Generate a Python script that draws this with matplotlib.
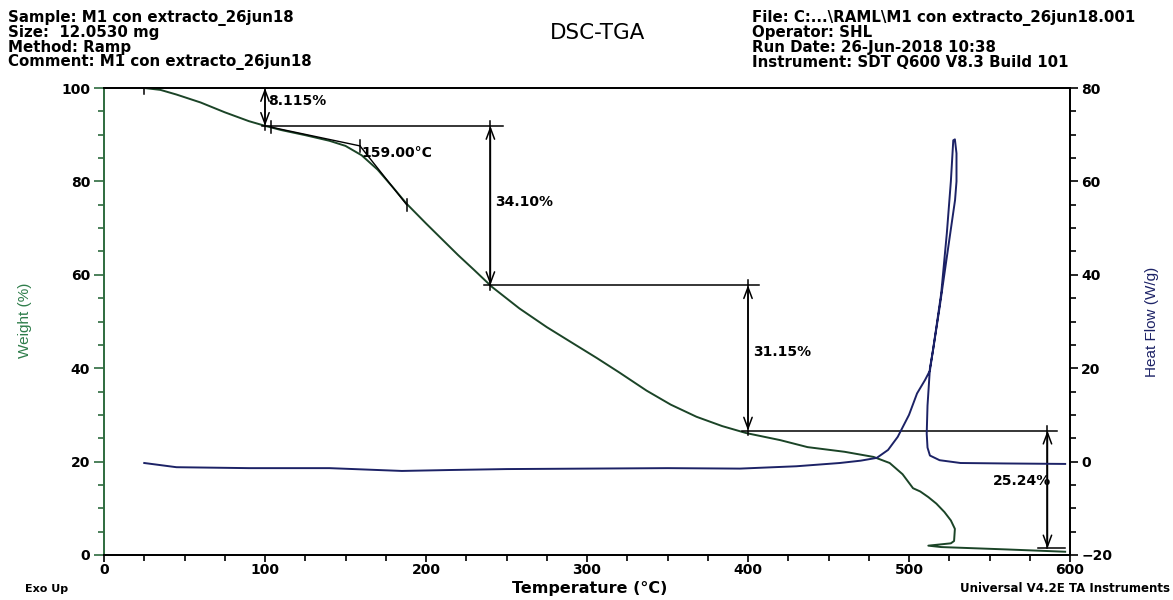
import numpy as np
import matplotlib
matplotlib.use("Agg")
from matplotlib import pyplot as plt
from matplotlib.ticker import MultipleLocator

plt.rcParams['font.family'] = ['DejaVu Sans']

# TGA weight curve (temperature in C, weight in %)
tga_temp = [25, 35, 45, 60, 75, 90, 100, 110, 125, 140, 150, 160, 170, 180, 188,
            200, 210, 220, 230, 241, 258, 275, 290, 306, 320, 337, 352, 368, 384,
            399, 420, 437, 460, 478, 488, 496, 502.5, 507, 512, 517, 522, 526, 528.5,
            528, 526, 512, 520, 560, 597]
tga_weight = [100, 99.6, 98.6, 96.9, 94.8, 92.9, 91.9, 91.0, 89.9, 88.7, 87.6, 85.6,
              82.5, 78.5, 75.2, 71.0, 67.6, 64.2, 61.0, 57.4, 52.8, 48.8, 45.6, 42.2,
              39.1, 35.2, 32.2, 29.6, 27.6, 26.1, 24.6, 23.1, 22.1, 21.0, 19.7, 17.3,
              14.3, 13.6, 12.4, 11.0, 9.2, 7.4, 5.6, 3.0, 2.5, 2.0, 1.7, 1.2, 0.7]

# DSC heat flow curve (temperature in C, heat flow in W/g)
dsc_temp = [25, 45, 90, 140, 185, 215, 250, 300, 350, 395, 430, 457, 470, 480, 487,
            493, 500, 505, 510, 513, 517, 520, 523.5, 526, 527.5, 528.5, 529.5, 529.5,
            528.6, 524, 519, 515, 513, 511.5, 511, 511.5, 513, 519, 532, 560, 597]
dsc_flow = [-0.3, -1.2, -1.4, -1.4, -2.0, -1.8, -1.6, -1.5, -1.4, -1.5, -1.0, -0.3,
            0.2, 0.8, 2.5, 5.3, 10.0, 14.6, 17.5, 19.5, 28.8, 36.0, 48.9, 60.0, 68.8,
            69.0, 66.0, 60.0, 56.0, 45.0, 33.0, 24.0, 20.0, 12.0, 6.0, 3.0, 1.3, 0.3,
            -0.3, -0.4, -0.5]

# step analysis results
step_temps = [100, 240, 400, 586]
step_levels = [100.0, 91.885, 57.785, 26.635, 1.395]
step_labels = ['8.115%', '34.10%', '31.15%', '25.24%']
onset_temps = [104, 159, 188]
onset_weights = [91.6, 87.6, 75.0]

header_left = ["Sample: M1 con extracto_26jun18", "Size:  12.0530 mg",
               "Method: Ramp", "Comment: M1 con extracto_26jun18"]
header_right = ["File: C:...\\RAML\\M1 con extracto_26jun18.001", "Operator: SHL",
                "Run Date: 26-Jun-2018 10:38", "Instrument: SDT Q600 V8.3 Build 101"]

green = '#1b4427'
spine_green = '#2e6b3e'
navy = '#1c2266'

fig = plt.figure(figsize=(11.73, 6.0), dpi=100)
ax = fig.add_axes([104 / 1173, 45 / 600, 966 / 1173, 467 / 600])
ax2 = ax.twinx()

ax.plot(tga_temp, tga_weight, color=green, lw=1.4, zorder=3)
ax2.plot(dsc_temp, dsc_flow, color=navy, lw=1.4, zorder=3)

ax.set_xlim(0, 600)
ax.set_ylim(0, 100)
ax2.set_ylim(-20, 80)

ax.xaxis.set_major_locator(MultipleLocator(100))
ax.xaxis.set_minor_locator(MultipleLocator(25))
ax.yaxis.set_major_locator(MultipleLocator(20))
ax.yaxis.set_minor_locator(MultipleLocator(5))
ax2.yaxis.set_major_locator(MultipleLocator(20))
ax2.yaxis.set_minor_locator(MultipleLocator(5))

ax.tick_params(axis='y', which='major', length=7, width=1.2, labelsize=10, pad=3,
               color=spine_green)
ax.tick_params(axis='y', which='minor', length=4, width=1.2, color=spine_green)
ax.tick_params(axis='x', which='major', length=5, width=1.2, labelsize=10, pad=1)
ax.tick_params(axis='x', which='minor', length=4, width=1.2)
ax2.tick_params(axis='y', which='major', length=6, width=1.2, labelsize=10, pad=2)
ax2.tick_params(axis='y', which='minor', length=4, width=1.2)
for lab in ax.get_xticklabels() + ax.get_yticklabels() + ax2.get_yticklabels():
    lab.set_fontweight('bold')

ax.spines['left'].set_color(spine_green)
ax.spines['left'].set_linewidth(1.4)
ax2.spines['left'].set_visible(False)
for s in ('top', 'bottom', 'right'):
    ax2.spines[s].set_linewidth(1.3)
    ax.spines[s].set_linewidth(1.3)

ax.set_xlabel("Temperature (\u00b0C)", fontsize=11.5, fontweight='bold')
ax.xaxis.set_label_coords((590 - 104) / 966, (555 - 589) / 467)
ax.xaxis.label.set_va('center')
ax.set_ylabel("Weight (%)", fontsize=11, color='#2e7d4a', family='Liberation Sans')
ax.yaxis.set_label_coords((25 - 104) / 966, (555 - 320) / 467)
ax.yaxis.label.set_va('center')
ax2.set_ylabel("Heat Flow (W/g)", fontsize=11, color=navy, family='Liberation Sans')
ax2.yaxis.set_label_coords((1152 - 104) / 966, (555 - 322) / 467)
ax2.yaxis.label.set_va('center')

# step annotations
lk = dict(color='black', lw=1.1, zorder=4)
arrow = dict(arrowstyle='<->,head_length=0.8,head_width=0.3', color='black', lw=1.1,
             shrinkA=0, shrinkB=0)
tk = dict(fontsize=10, fontweight='bold', va='center')
ax.plot([step_temps[0], step_temps[0]], [step_levels[0] + 1.2, step_levels[1] - 0.8], **lk)
ax.annotate('', xy=(step_temps[0], step_levels[0]), xytext=(step_temps[0], step_levels[1]),
            arrowprops=arrow)
ax.text(step_temps[0] + 2, 97.2, step_labels[0], **tk)

ax.plot([98, 248], [step_levels[1], step_levels[1]], **lk)
ax.plot([step_temps[1], step_temps[1]], [step_levels[1] + 1.0, step_levels[2] - 1.0], **lk)
ax.annotate('', xy=(step_temps[1], step_levels[1]), xytext=(step_temps[1], step_levels[2]),
            arrowprops=arrow)
ax.text(step_temps[1] + 3, 75.5, step_labels[1], **tk)

ax.plot([236, 407], [step_levels[2], step_levels[2]], **lk)
ax.plot([step_temps[2], step_temps[2]], [step_levels[2] + 1.0, step_levels[3] - 1.0], **lk)
ax.annotate('', xy=(step_temps[2], step_levels[2]), xytext=(step_temps[2], step_levels[3]),
            arrowprops=arrow)
ax.text(step_temps[2] + 3, 43.5, step_labels[2], **tk)

ax.plot([396, 592], [step_levels[3], step_levels[3]], **lk)
ax.plot([580, 597], [step_levels[4], step_levels[4]], **lk)
ax.plot([step_temps[3], step_temps[3]], [step_levels[3] + 1.0, step_levels[4]], **lk)
ax.annotate('', xy=(step_temps[3], step_levels[3]), xytext=(step_temps[3], step_levels[4]),
            arrowprops=arrow)
ax.text(570, 15.8, step_labels[3], ha='center', **tk)

# onset tangents
ax.plot(onset_temps[:2], onset_weights[:2], color='black', lw=1.0, zorder=4)
ax.plot(onset_temps[1:], onset_weights[1:], color='black', lw=1.0, zorder=4)
for t, w in zip([25] + onset_temps, [100] + onset_weights):
    ax.plot([t, t], [w - 1.3, w + 1.3], color='black', lw=1.1, zorder=4)
ax.text(onset_temps[1] + 1, onset_weights[1] - 1.5, '159.00\u00b0C', **tk)

# header and footer texts
for i, line in enumerate(header_left):
    fig.text(8 / 1173, 1 - (18 + 14.7 * i) / 600, line, fontsize=10.8, fontweight='bold',
             va='center')
for i, line in enumerate(header_right):
    fig.text(752 / 1173, 1 - (18 + 14.7 * i) / 600, line, fontsize=10.8, fontweight='bold',
             va='center')
fig.text(598 / 1173, 1 - 33 / 600, "DSC-TGA", fontsize=15.5, ha='center', va='center')
fig.text(25 / 1173, 1 - 589 / 600, "Exo Up", fontsize=8, fontweight='bold', va='center')
fig.text(1170 / 1173, 1 - 588 / 600, "Universal V4.2E TA Instruments", fontsize=8.5,
         fontweight='bold', ha='right', va='center')

fig.savefig("out.png", dpi=100, facecolor='white')
